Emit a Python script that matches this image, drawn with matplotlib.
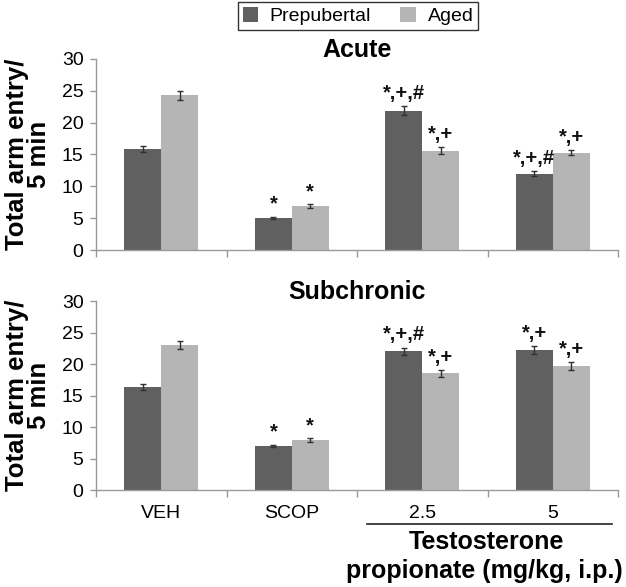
import numpy as np
import matplotlib
matplotlib.use("Agg")
import matplotlib.pyplot as plt
from matplotlib.lines import Line2D
from matplotlib.patches import Patch

plt.rcParams['font.family'] = ['Liberation Sans', 'DejaVu Sans']

groups = ['VEH', 'SCOP', '2.5', '5']
series = ['Prepubertal', 'Aged']
colors = ['#606060', '#b5b5b5']

acute_pre = [15.9, 5.0, 21.9, 12.0]
acute_pre_err = [0.5, 0.2, 0.7, 0.4]
acute_aged = [24.3, 6.9, 15.6, 15.3]
acute_aged_err = [0.7, 0.25, 0.5, 0.45]
acute_marks_pre = ['', '*', '*,+,#', '*,+,#']
acute_marks_aged = ['', '*', '*,+', '*,+']

sub_pre = [16.3, 7.0, 22.0, 22.2]
sub_pre_err = [0.5, 0.2, 0.6, 0.65]
sub_aged = [23.0, 7.9, 18.5, 19.7]
sub_aged_err = [0.6, 0.35, 0.6, 0.6]
sub_marks_pre = ['', '*', '*,+,#', '*,+']
sub_marks_aged = ['', '*', '*,+', '*,+']

fig = plt.figure(figsize=(6.26, 5.87), dpi=100)
ax1 = fig.add_axes([0.1534, 0.5741, 0.8339, 0.3254])
ax2 = fig.add_axes([0.1534, 0.1652, 0.8339, 0.3220])

width = 0.283
x = np.arange(len(groups))


def panel(ax, pre, pre_err, aged, aged_err, marks_pre, marks_aged, title, labels, h):
    vals = [(pre, pre_err, marks_pre), (aged, aged_err, marks_aged)]
    for i, (v, e, m) in enumerate(vals):
        pos = x + (i - 0.5) * width
        ax.bar(pos, v, width, color=colors[i], edgecolor='none', zorder=2)
        ax.errorbar(pos, v, yerr=e, fmt='none', ecolor='#303030',
                    elinewidth=1, capsize=2.5, capthick=1, zorder=3)
        for p, val, err, txt in zip(pos, v, e, m):
            if txt:
                ax.text(p, val + err + 0.5, txt, ha='center', va='bottom',
                        fontsize=14.5, fontweight='bold', color='#111111')
    ax.set_xlim(-0.5, 3.5)
    ax.set_ylim(0, 30)
    ax.set_yticks(range(0, 31, 5))
    ax.set_xticks(x)
    ax.set_xticks(np.arange(-0.5, 4, 1), minor=True)
    ax.tick_params(axis='x', which='major', length=0, labelsize=14, pad=11)
    ax.tick_params(axis='x', which='minor', length=5, color='#999999', width=1)
    ax.tick_params(axis='y', length=4, color='#999999', width=1, labelsize=14, pad=5)
    if labels:
        ax.set_xticklabels(groups)
    else:
        ax.set_xticklabels([])
    for s in ['top', 'right']:
        ax.spines[s].set_visible(False)
    for s in ['left', 'bottom']:
        ax.spines[s].set_color('#999999')
        ax.spines[s].set_linewidth(1)
    ax.text(0.5, 1 + 9 / h, title, transform=ax.transAxes, ha='center',
            va='center', fontsize=18, fontweight='bold')
    ax.set_ylabel('Total arm entry/\n5 min', fontsize=18.5, fontweight='bold',
                  linespacing=0.9)
    ax.yaxis.set_label_coords(-0.086, 0.5)


panel(ax1, acute_pre, acute_pre_err, acute_aged, acute_aged_err,
      acute_marks_pre, acute_marks_aged, 'Acute', False, 191)
panel(ax2, sub_pre, sub_pre_err, sub_aged, sub_aged_err,
      sub_marks_pre, sub_marks_aged, 'Subchronic', True, 189)

handles = [Patch(facecolor=c, edgecolor='none') for c in colors]
leg = fig.legend(handles, series, loc='center', bbox_to_anchor=(0.572, 0.973),
                 ncol=2, fontsize=14, frameon=True, fancybox=False,
                 handlelength=0.8, handleheight=0.8, handletextpad=0.6,
                 columnspacing=1.5, borderpad=0.25, borderaxespad=0)
leg.get_frame().set_edgecolor('black')
leg.get_frame().set_linewidth(1)

# bracket under the testosterone doses
fig.add_artist(Line2D([367 / 626, 612 / 626], [1 - 524 / 587, 1 - 524 / 587],
                      color='#222222', linewidth=1.2, transform=fig.transFigure))
fig.text(486 / 626, 1 - 542 / 587, 'Testosterone', ha='center', va='center',
         fontsize=18, fontweight='bold')
fig.text(484 / 626, 1 - 571 / 587, 'propionate (mg/kg, i.p.)', ha='center',
         va='center', fontsize=18, fontweight='bold')

fig.savefig('out.png', dpi=100)
